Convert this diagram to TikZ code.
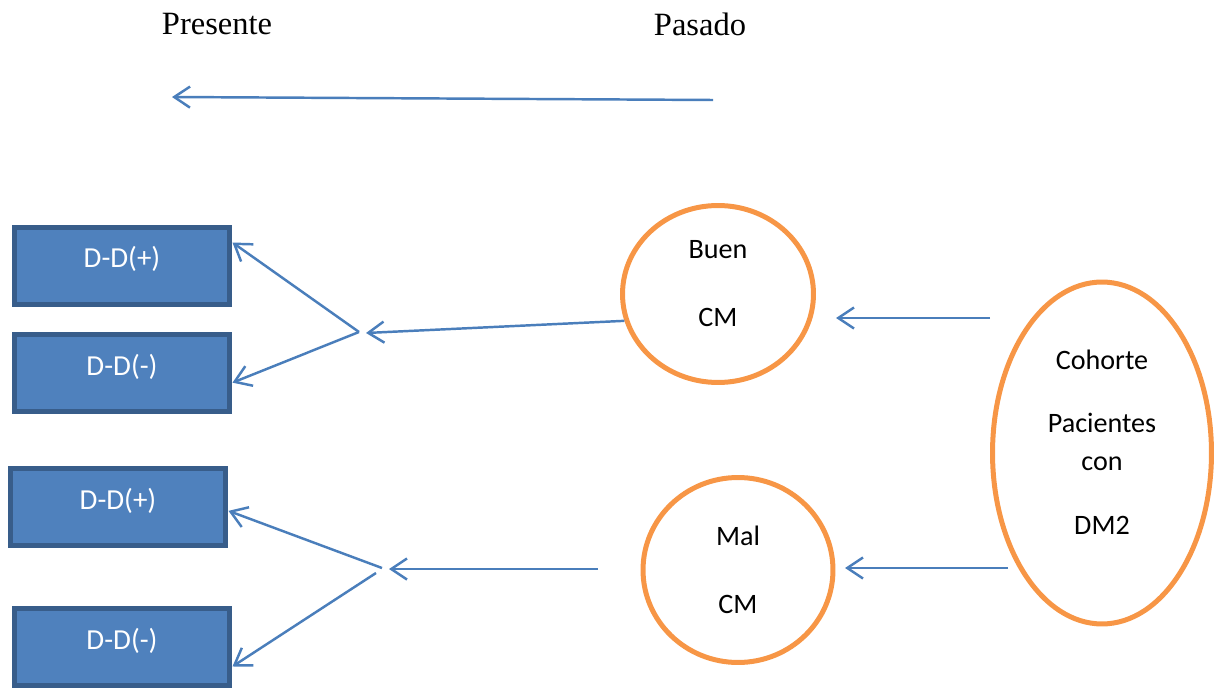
\documentclass[tikz,border=0pt]{standalone}
\usepackage{fontspec}
\setmainfont{Carlito}
\newfontfamily\timesfont{Liberation Serif}
\usetikzlibrary{arrows.meta, shapes.geometric}
\definecolor{boxfill}{HTML}{4F81BD}
\definecolor{boxline}{HTML}{385D8A}
\definecolor{ringline}{HTML}{F79646}
\definecolor{arrowline}{HTML}{4A7EBB}
\tikzset{
	dbox/.style = {draw = boxline, fill = boxfill, line width = 0.1cm, minimum width = 4.32cm, minimum height = 1.56cm, text = white, text height = 0.42cm, text depth = 0.34cm, font = \fontsize{16.5}{19}\selectfont},
	ring/.style = {ellipse, draw = ringline, line width = 0.1cm, inner sep = 0pt, align = center, font = \fontsize{16}{21.5}\selectfont},
	flow/.style = {draw = arrowline, line width = 1.4pt, -{Straight Barb[length = 9pt, width = 12pt]}},
	era/.style = {font = \timesfont\fontsize{18.5}{21}\selectfont}
}
\begin{document}
\begin{tikzpicture} [x = 0.02cm, y = -0.02cm]
	\useasboundingbox (0, 0) rectangle (1224, 689) ;
	
	\node [era] (presente) at (217, 24) {Presente} ;
	\node [era] (pasado) at (700, 24) {Pasado} ;
	\coordinate (desde) at (713, 100) ;
	\coordinate (hasta) at (172, 97) ;
	\draw [flow] (desde) -- (hasta) ;
	
	\node [dbox] (dd1) at (122, 266) {D-D(+)} ;
	\node [dbox] (dd2) at (122, 373) {D-D(-)} ;
	\node [dbox] (dd3) at (118, 507) {D-D(+)} ;
	\node [dbox] (dd4) at (122, 647) {D-D(-)} ;
	
	\node [ring, minimum width = 3.82cm, minimum height = 3.54cm, text depth = 0.42cm] (buen) at (718, 294) {Buen\\[0.6cm]CM} ;
	\node [ring, minimum width = 3.8cm, minimum height = 3.7cm] (mal) at (738, 570) {Mal\\[0.6cm]CM} ;
	\node [ring, minimum width = 4.38cm, minimum height = 6.84cm, text depth = 0.42cm] (cohorte) at (1102, 453) {Cohorte\\[0.5cm]Pacientes\\con\\[0.54cm]DM2} ;
	
	\coordinate (inicioA) at (990, 318) ;
	\coordinate (finA) at (836, 318) ;
	\draw [flow] (inicioA) -- (finA) ;
	\coordinate (inicioB) at (1008, 568) ;
	\coordinate (finB) at (845, 568) ;
	\draw [flow] (inicioB) -- (finB) ;
	
	\coordinate (cruceA) at (359, 332) ;
	\coordinate (puntaA) at (366, 333) ;
	\draw [flow] (buen.196) -- (puntaA) ;
	\draw [flow] (cruceA) -- (dd1.12) ;
	\draw [flow] (cruceA) -- (dd2.-5) ;
	
	\coordinate (cruceB) at (382, 568) ;
	\coordinate (cruceC) at (376, 573) ;
	\coordinate (puntaB) at (389, 569) ;
	\coordinate (inicioC) at (598, 569) ;
	\draw [flow] (inicioC) -- (puntaB) ;
	\draw [flow] (cruceB) -- (dd3.-2) ;
	\draw [flow] (cruceC) -- (dd4.-10) ;
	
\end{tikzpicture}
\end{document}
